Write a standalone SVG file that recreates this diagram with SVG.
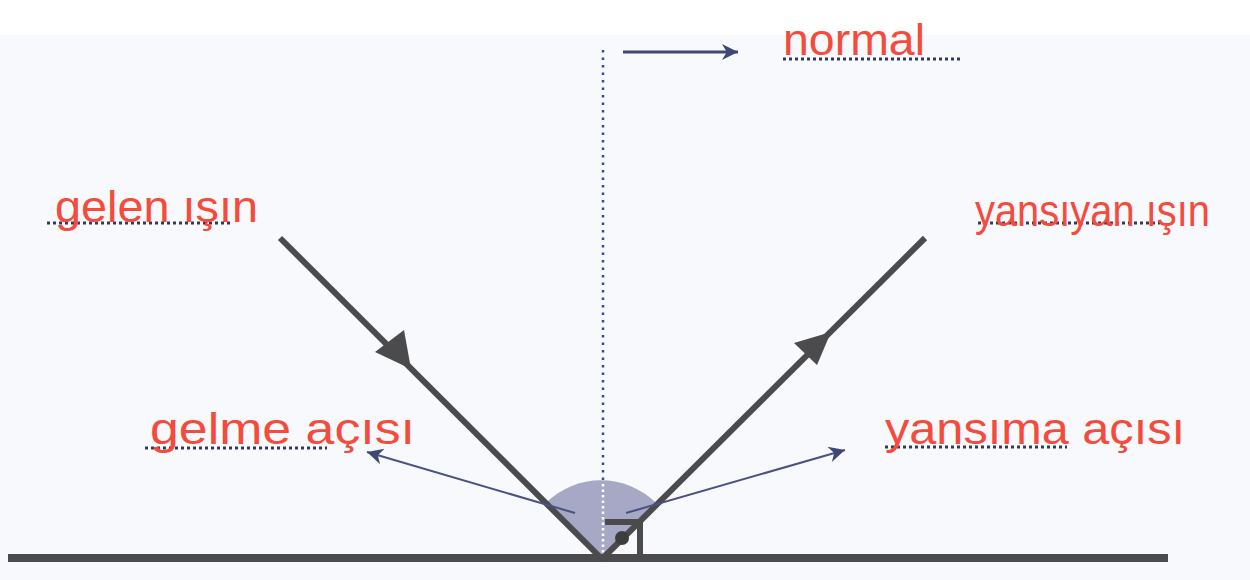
<svg xmlns="http://www.w3.org/2000/svg" width="1250" height="580" viewBox="0 0 1250 580">
<style>
.ray{stroke:#4b4b4d;stroke-width:6;fill:none}
.thin{stroke:#4a5183;stroke-width:2;fill:none}
.dots{stroke:#333a55;stroke-width:3;stroke-dasharray:3 3;fill:none}
.lbl{font-family:"Liberation Sans",Arial,sans-serif;font-size:44px;fill:#f44b3c}
.head{fill:#4b4b4d}
</style>
<defs>
<marker id="small" viewBox="0 0 10 10" refX="10" refY="5" markerWidth="22" markerHeight="16" orient="auto" markerUnits="userSpaceOnUse">
<path d="M0,0 L10,5 L0,10 L3,5 z" fill="#3f4777"/>
</marker>
</defs>
<rect x="0" y="0" width="1250" height="580" fill="#ffffff"/>
<rect x="0" y="35" width="1250" height="545" fill="#f8f9fc"/>
<g id="angle-sector">
<path d="M601,558 L546,503 A78,78 0 0 1 656,503 Z" fill="#a6a8c6"/>
</g>
<g id="normal-line">
<line x1="603" y1="50" x2="603" y2="482" stroke="#3a4a9a" stroke-width="2.5" stroke-dasharray="2.5 5"/>
<line x1="603" y1="484" x2="603" y2="556" stroke="#ffffff" stroke-width="2.5" stroke-dasharray="2.5 3"/>
</g>
<g id="connectors">
<line class="ray" x1="280" y1="238" x2="603" y2="560"/>
<line class="ray" x1="601" y1="560" x2="925" y2="238"/>
<path class="head" d="M375,352 L404,330 L411,369 Z"/>
<path class="head" d="M794,343 L817,365 L831,332 Z"/>
<line class="thin" x1="575" y1="513" x2="367" y2="452" marker-end="url(#small)"/>
<line class="thin" x1="626" y1="513" x2="845" y2="450" marker-end="url(#small)"/>
<line x1="623" y1="52" x2="738" y2="52" stroke="#3f4777" stroke-width="3" marker-end="url(#small)"/>
</g>
<g id="right-angle">
<line x1="605" y1="522" x2="643" y2="522" stroke="#4b4b4d" stroke-width="6"/>
<line x1="640" y1="519" x2="640" y2="558" stroke="#4b4b4d" stroke-width="6"/>
<circle cx="622" cy="538" r="7" fill="#3d3d3f"/>
</g>
<g id="ground">
<line x1="8" y1="558" x2="1168" y2="558" stroke="#4b4b4d" stroke-width="8"/>
</g>
<g id="label-normal">
<line class="dots" x1="783" y1="59" x2="962" y2="59"/>
<text class="lbl" x="783" y="55" textLength="142" lengthAdjust="spacingAndGlyphs">normal</text>
</g>
<g id="label-gelen">
<line class="dots" x1="47" y1="223" x2="230" y2="223"/>
<text class="lbl" x="55" y="222" textLength="203" lengthAdjust="spacingAndGlyphs">gelen ışın</text>
</g>
<g id="label-yansiyan">
<line class="dots" x1="978" y1="223" x2="1160" y2="223"/>
<text class="lbl" x="975" y="226" textLength="235" lengthAdjust="spacingAndGlyphs">yansıyan ışın</text>
</g>
<g id="label-gelme">
<line class="dots" x1="145" y1="448" x2="327" y2="448"/>
<text class="lbl" x="150" y="444" textLength="265" lengthAdjust="spacingAndGlyphs">gelme açısı</text>
</g>
<g id="label-yansima">
<line class="dots" x1="885" y1="447" x2="1067" y2="447"/>
<text class="lbl" x="885" y="444" textLength="300" lengthAdjust="spacingAndGlyphs">yansıma açısı</text>
</g>
</svg>
